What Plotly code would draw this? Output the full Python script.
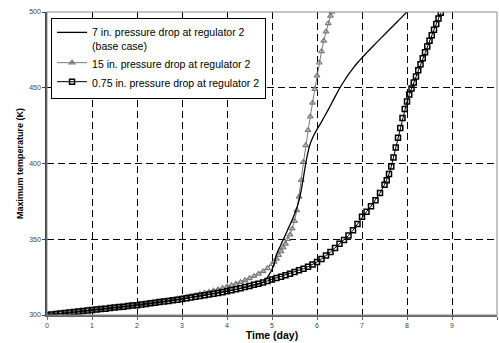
import plotly.graph_objects as go

# ---- data ----
t_base = [0.0, 0.5, 1.0, 1.5, 2.0, 2.5, 3.0, 3.5, 4.0, 4.5, 4.8, 4.85, 4.9, 4.95, 5.0, 5.05, 5.1,
          5.2, 5.3, 5.4, 5.5, 5.55, 5.6, 5.65, 5.7, 5.75, 5.8, 5.85, 5.9, 5.95, 6.0, 6.1, 6.2,
          6.3, 6.4, 6.5, 6.6, 6.7, 6.8, 6.9, 7.0, 7.1, 7.2, 7.3, 7.4, 7.5, 7.6, 7.7, 7.8, 7.9, 8.0]
T_base = [300.0, 301.6, 303.3, 304.9, 306.5, 308.5, 310.5, 313.0, 315.6, 319.1, 321.5, 323.0, 325.0,
          327.3, 330.0, 334.0, 340.0, 346.5, 353.0, 359.5, 366.5, 370.5, 375.5, 382.5, 391.0, 400.0,
          407.5, 413.0, 416.8, 419.8, 422.5, 427.5, 432.8, 438.3, 444.0, 449.5, 454.3, 458.8, 462.8,
          466.5, 469.8, 473.0, 476.1, 479.1, 482.1, 485.1, 488.1, 491.1, 494.1, 497.1, 500.0]

t_15 = [0.0, 0.1, 0.2, 0.3, 0.4, 0.5, 0.6, 0.7, 0.8, 0.9, 1.0, 1.1, 1.2, 1.3, 1.4, 1.5, 1.6, 1.7,
        1.8, 1.9, 2.0, 2.1, 2.2, 2.3, 2.4, 2.5, 2.6, 2.7, 2.8, 2.9, 3.0, 3.1, 3.2, 3.3, 3.4, 3.5,
        3.6, 3.7, 3.8, 3.9, 4.0, 4.1, 4.2, 4.3, 4.4, 4.5, 4.6, 4.7, 4.8, 4.9, 5.0, 5.05, 5.1, 5.15,
        5.2, 5.25, 5.3, 5.35, 5.4, 5.45, 5.5, 5.55, 5.6, 5.65, 5.7, 5.75, 5.8, 5.85, 5.9, 5.95,
        6.0, 6.05, 6.1, 6.15, 6.2, 6.25, 6.3, 6.33]
T_15 = [300.0, 300.3, 300.6, 301.0, 301.3, 301.6, 302.0, 302.3, 302.6, 303.0, 303.3, 303.6, 303.9,
        304.2, 304.6, 304.9, 305.2, 305.5, 305.9, 306.2, 306.6, 307.0, 307.4, 307.8, 308.2, 308.6,
        309.1, 309.6, 310.1, 310.7, 311.3, 311.9, 312.5, 313.1, 313.8, 314.5, 315.2, 316.0, 316.8,
        317.7, 318.6, 319.6, 320.6, 321.7, 322.9, 324.2, 325.6, 327.1, 328.8, 330.8, 333.5, 335.0,
        337.0, 339.5, 342.0, 344.5, 347.0, 350.0, 353.0, 357.0, 362.0, 369.0, 378.0, 389.0, 401.0,
        412.0, 422.0, 431.0, 440.0, 449.0, 458.0, 466.5, 474.0, 481.0, 487.0, 492.5, 497.5, 500.0]

t_075 = [0.0, 0.1, 0.2, 0.3, 0.4, 0.5, 0.6, 0.7, 0.8, 0.9, 1.0, 1.1, 1.2, 1.3, 1.4, 1.5, 1.6, 1.7,
         1.8, 1.9, 2.0, 2.1, 2.2, 2.3, 2.4, 2.5, 2.6, 2.7, 2.8, 2.9, 3.0, 3.1, 3.2, 3.3, 3.4, 3.5,
         3.6, 3.7, 3.8, 3.9, 4.0, 4.1, 4.2, 4.3, 4.4, 4.5, 4.6, 4.7, 4.8, 4.9, 5.0, 5.1, 5.2, 5.3,
         5.4, 5.5, 5.6, 5.7, 5.8, 5.9, 6.0, 6.1, 6.2, 6.3, 6.4, 6.5, 6.6, 6.7, 6.8, 6.9, 7.0, 7.1,
         7.2, 7.3, 7.4, 7.5, 7.55, 7.6, 7.65, 7.7, 7.75, 7.8, 7.85, 7.9, 7.95, 8.0, 8.05, 8.1, 8.15,
         8.2, 8.25, 8.3, 8.35, 8.4, 8.45, 8.5, 8.55, 8.6, 8.65, 8.7, 8.75]
T_075 = [300.0, 300.3, 300.6, 301.0, 301.3, 301.6, 302.0, 302.3, 302.6, 303.0, 303.3, 303.6, 303.9,
         304.2, 304.6, 304.9, 305.2, 305.5, 305.9, 306.2, 306.5, 306.9, 307.3, 307.7, 308.1, 308.5,
         308.9, 309.3, 309.7, 310.1, 310.5, 311.0, 311.5, 312.0, 312.5, 313.0, 313.5, 314.0, 314.5,
         315.0, 315.6, 316.3, 317.0, 317.7, 318.4, 319.1, 319.9, 320.7, 321.5, 322.5, 323.5, 324.4,
         325.3, 326.3, 327.3, 328.4, 329.5, 330.6, 331.9, 333.3, 335.0, 337.0, 339.2, 341.6, 344.3,
         347.0, 349.5, 352.5, 356.0, 360.0, 364.8, 368.2, 371.8, 375.8, 380.5, 386.0, 389.0, 393.0,
         398.0, 404.0, 410.5, 417.0, 423.5, 430.0, 436.0, 441.0, 445.5, 449.5, 453.5, 457.5, 461.5,
         465.5, 469.5, 473.5, 477.3, 481.0, 484.7, 488.3, 492.0, 495.7, 499.5]

x_ticks = [0, 1, 2, 3, 4, 5, 6, 7, 8, 9, 10]
y_ticks = [300, 350, 400, 450, 500]

names = ["7 in. pressure drop at regulator 2<br>(base case)",
         "15 in. pressure drop at regulator 2",
         "0.75 in. pressure drop at regulator 2"]

FONT = "Liberation Sans, Arial, sans-serif"

fig = go.Figure()
fig.add_trace(go.Scatter(
    x=t_15, y=T_15, name=names[1], mode="lines+markers", legendrank=2,
    line=dict(color="#7a7a7a", width=1),
    marker=dict(symbol="triangle-up-open", size=5, color="#7a7a7a", line=dict(width=1.2, color="#7a7a7a"))))
fig.add_trace(go.Scatter(
    x=t_075, y=T_075, name=names[2], mode="lines+markers", legendrank=3,
    line=dict(color="black", width=1),
    marker=dict(symbol="square-open", size=5, color="black", line=dict(width=1.5, color="black"))))
fig.add_trace(go.Scatter(
    x=t_base, y=T_base, name=names[0], mode="lines", legendrank=1,
    line=dict(color="black", width=1.3, shape="spline", smoothing=0.8)))

fig.add_shape(type="rect", xref="paper", yref="paper", x0=0, y0=0, x1=1, y1=1,
              line=dict(color="#8a8a8a", width=1), layer="above")

fig.update_layout(
    width=499, height=343,
    margin=dict(l=47, r=2, t=12, b=28),
    paper_bgcolor="white", plot_bgcolor="white",
    font=dict(family=FONT, color="black"),
    showlegend=True,
    legend=dict(x=0.009, y=0.98, xanchor="left", yanchor="top",
                bgcolor="white", bordercolor="black", borderwidth=1,
                font=dict(size=10.5, family=FONT, color="black"),
                itemwidth=30, valign="top", tracegroupgap=0),
    xaxis=dict(range=[0, 10], tickvals=x_ticks, ticktext=[str(v) for v in x_ticks],
               showgrid=True, gridcolor="black", gridwidth=1, griddash="7px,4px",
               zeroline=False, showline=True, linecolor="#666666", linewidth=2,
               ticks="outside", ticklen=3, tickcolor="#666666",
               tickfont=dict(size=7, color="#444444"),
               title=dict(text="<b>Time (day)</b>", font=dict(size=10.5), standoff=1)),
    yaxis=dict(range=[300, 500], tickvals=y_ticks, ticktext=[str(v) for v in y_ticks],
               showgrid=True, gridcolor="black", gridwidth=1, griddash="7px,4px",
               zeroline=False, showline=True, linecolor="#444444", linewidth=1.5,
               ticks="outside", ticklen=3, tickcolor="#444444",
               tickfont=dict(size=7, color="#444444"),
               title=dict(text="<b>Maximum temperature (K)</b>", font=dict(size=9), standoff=4)),
)

fig.write_html("out.html")
